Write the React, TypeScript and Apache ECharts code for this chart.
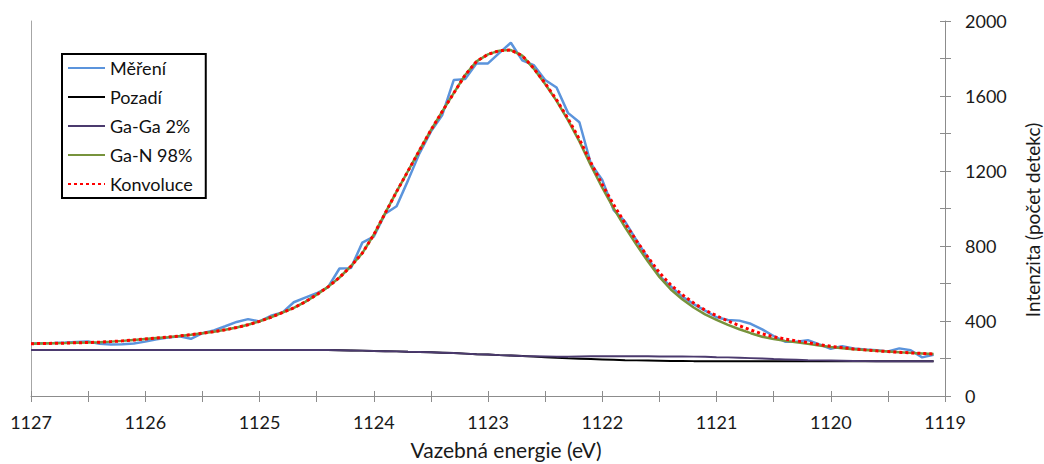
import React, { useEffect, useRef } from "react";
import * as echarts from "echarts";

const energy = [
  1127.0, 1126.9, 1126.8, 1126.7, 1126.6, 1126.5, 1126.4, 1126.3, 1126.2, 1126.1,
  1126.0, 1125.9, 1125.8, 1125.7, 1125.6, 1125.5, 1125.4, 1125.3, 1125.2, 1125.1,
  1125.0, 1124.9, 1124.8, 1124.7, 1124.6, 1124.5, 1124.4, 1124.3, 1124.2, 1124.1,
  1124.0, 1123.9, 1123.8, 1123.7, 1123.6, 1123.5, 1123.4, 1123.3, 1123.2, 1123.1,
  1123.0, 1122.9, 1122.8, 1122.7, 1122.6, 1122.5, 1122.4, 1122.3, 1122.2, 1122.1,
  1122.0, 1121.9, 1121.8, 1121.7, 1121.6, 1121.5, 1121.4, 1121.3, 1121.2, 1121.1,
  1121.0, 1120.9, 1120.8, 1120.7, 1120.6, 1120.5, 1120.4, 1120.3, 1120.2, 1120.1,
  1120.0, 1119.9, 1119.8, 1119.7, 1119.6, 1119.5, 1119.4, 1119.3, 1119.2, 1119.1,
];

const mereni = [
  280, 282, 283, 285, 288, 291, 278, 275, 276, 280,
  290, 302, 312, 318, 305, 335, 350, 372, 395, 410,
  398, 428, 445, 500, 525, 548, 580, 680, 682, 818,
  850, 972, 1012, 1150, 1294, 1410, 1499, 1685, 1690, 1774,
  1774, 1830, 1884, 1790, 1765, 1685, 1645, 1510, 1460, 1240,
  1152, 992, 930, 830, 735, 640, 585, 530, 490, 455,
  420, 405, 402, 385, 355, 320, 290, 290, 298, 275,
  252, 266, 253, 248, 244, 238, 254, 244, 206, 220,
];

const pozadi = [
  245, 245, 245, 245, 245, 245, 245, 245, 245, 245,
  245, 245, 245, 245, 245, 245, 245, 245, 245, 245,
  245, 245, 245, 245, 245, 245, 245, 244, 243, 242,
  240, 239, 238, 236, 235, 233, 231, 229, 226, 223,
  221, 218, 216, 213, 210, 207, 204, 201, 199, 197,
  195, 193, 191, 190, 189, 188, 187, 187, 186, 186,
  185, 185, 185, 185, 185, 185, 185, 185, 185, 185,
  185, 185, 185, 185, 185, 185, 185, 185, 185, 185,
];

const gaGa = [
  245, 245, 245, 245, 245, 245, 245, 245, 245, 245,
  245, 245, 245, 245, 245, 245, 245, 245, 245, 245,
  245, 245, 245, 245, 245, 245, 245, 244, 243, 242,
  240, 239, 238, 236, 235, 233, 231, 229, 226, 223,
  221, 218, 216, 213, 212, 211, 210, 210, 211, 212,
  212, 212, 212, 212, 212, 211, 211, 211, 210, 209,
  207, 206, 204, 202, 200, 197, 195, 193, 191, 190,
  189, 188, 187, 186, 185, 185, 185, 185, 185, 185,
];

const gaN = [
  279, 280, 281, 282, 284, 285, 287, 290, 294, 299,
  304, 309, 314, 320, 327, 335, 343, 353, 365, 380,
  398, 420, 445, 470, 502, 540, 582, 632, 692, 762,
  860, 975, 1090, 1200, 1310, 1418, 1518, 1615, 1712, 1785,
  1822, 1842, 1845, 1815, 1746, 1664, 1574, 1471, 1358, 1230,
  1111, 1001, 900, 806, 717, 635, 568, 516, 472, 435,
  406, 379, 356, 335, 316, 304, 294, 286, 278, 269,
  261, 255, 249, 245, 241, 237, 233, 230, 227, 224,
];

const konvoluce = [
  279, 280, 281, 282, 284, 285, 287, 290, 294, 299,
  304, 309, 314, 320, 327, 335, 343, 353, 365, 380,
  398, 420, 445, 470, 502, 540, 582, 632, 692, 762,
  860, 975, 1090, 1200, 1310, 1418, 1518, 1615, 1712, 1785,
  1822, 1842, 1845, 1815, 1748, 1668, 1580, 1480, 1370, 1245,
  1128, 1020, 921, 828, 740, 658, 592, 540, 496, 458,
  428, 400, 375, 352, 331, 316, 304, 294, 284, 274,
  265, 258, 251, 246, 241, 237, 233, 230, 227, 224,
];

const seriesNames = ["Měření", "Pozadí", "Ga-Ga 2%", "Ga-N 98%", "Konvoluce"];
const xTitle = "Vazebná energie (eV)";
const yTitle = "Intenzita (počet detekc)";

const FONT = "Lato";
const AXIS_GRAY = "#8c8c8c";

function pairs(values: number[]) {
  return energy.map((e, i) => [e, values[i]]);
}

export default function App() {
  const ref = useRef<HTMLDivElement>(null);
  useEffect(() => {
    if (!ref.current) return;
    const chart = echarts.init(ref.current, null, { renderer: "svg" });
    const plain = (v: number) => String(v);
    const baseX = {
      type: "value",
      min: 1119,
      max: 1127,
      interval: 1,
      inverse: true,
      position: "bottom",
      splitLine: { show: false },
    };
    const baseY = {
      type: "value",
      min: 0,
      max: 2000,
      interval: 400,
      splitLine: { show: false },
    };
    chart.setOption({
      animation: false,
      backgroundColor: "#ffffff",
      grid: { left: 31, right: 99, top: 21, bottom: 68 },
      xAxis: [
        {
          ...baseX,
          axisLine: { show: true, lineStyle: { color: AXIS_GRAY, width: 1 } },
          axisTick: { show: true, inside: false, length: 6, lineStyle: { color: AXIS_GRAY } },
          minorTick: { show: true, splitNumber: 2, length: 6, lineStyle: { color: AXIS_GRAY } },
          axisLabel: {
            margin: 17,
            fontFamily: FONT,
            fontSize: 18,
            color: "#1a1a1a",
            formatter: plain,
          },
        },
        {
          ...baseX,
          axisLine: { show: false },
          axisTick: { show: true, inside: true, length: 5, lineStyle: { color: AXIS_GRAY } },
          minorTick: { show: true, splitNumber: 2, length: 5, lineStyle: { color: AXIS_GRAY } },
          axisLabel: { show: false },
        },
      ],
      yAxis: [
        {
          ...baseY,
          position: "right",
          axisLine: { show: true, lineStyle: { color: AXIS_GRAY, width: 1 } },
          axisTick: { show: true, inside: false, length: 6, lineStyle: { color: AXIS_GRAY } },
          minorTick: { show: true, splitNumber: 2, length: 6, lineStyle: { color: AXIS_GRAY } },
          axisLabel: {
            margin: 20,
            fontFamily: FONT,
            fontSize: 18,
            color: "#1a1a1a",
            formatter: plain,
          },
        },
        {
          ...baseY,
          position: "right",
          axisLine: { show: false },
          axisTick: { show: true, inside: true, length: 5, lineStyle: { color: AXIS_GRAY } },
          minorTick: { show: true, splitNumber: 2, length: 5, lineStyle: { color: AXIS_GRAY } },
          axisLabel: { show: false },
        },
        {
          ...baseY,
          position: "left",
          axisLine: { show: true, lineStyle: { color: "#a6a6a6", width: 1 } },
          axisTick: { show: false },
          axisLabel: { show: false },
        },
      ],
      legend: {
        orient: "vertical",
        left: 62,
        top: 54,
        padding: [4, 13, 4, 5],
        itemGap: 9,
        itemWidth: 37,
        itemHeight: 14,
        borderColor: "#000000",
        borderWidth: 2,
        backgroundColor: "#ffffff",
        itemStyle: { opacity: 0 },
        textStyle: { fontFamily: FONT, fontSize: 18, color: "#111111", lineHeight: 20 },
        data: seriesNames,
      },
      graphic: [
        {
          type: "text",
          x: 506,
          y: 449,
          style: {
            text: xTitle,
            fontFamily: FONT,
            fontSize: 21,
            fill: "#1a1a1a",
            textAlign: "center",
            textVerticalAlign: "middle",
          },
        },
        {
          type: "text",
          x: 1032,
          y: 220,
          rotation: Math.PI / 2,
          style: {
            text: yTitle,
            fontFamily: FONT,
            fontSize: 19,
            fill: "#1a1a1a",
            textAlign: "center",
            textVerticalAlign: "middle",
          },
        },
      ],
      series: [
        {
          name: seriesNames[0],
          type: "line",
          symbol: "none",
          data: pairs(mereni),
          lineStyle: { color: "#5b94dc", width: 2.5 },
          itemStyle: { color: "#5b94dc" },
          z: 2,
        },
        {
          name: seriesNames[1],
          type: "line",
          symbol: "none",
          data: pairs(pozadi),
          lineStyle: { color: "#000000", width: 2 },
          itemStyle: { color: "#000000" },
          z: 3,
        },
        {
          name: seriesNames[2],
          type: "line",
          symbol: "none",
          data: pairs(gaGa),
          lineStyle: { color: "#4b3a6e", width: 2 },
          itemStyle: { color: "#4b3a6e" },
          z: 4,
        },
        {
          name: seriesNames[3],
          type: "line",
          symbol: "none",
          data: pairs(gaN),
          lineStyle: { color: "#77933c", width: 2.5 },
          itemStyle: { color: "#77933c" },
          z: 5,
        },
        {
          name: seriesNames[4],
          type: "line",
          symbol: "none",
          data: pairs(konvoluce),
          lineStyle: { color: "#ff0000", width: 3, type: [3, 3], cap: "butt" },
          itemStyle: { color: "#ff0000" },
          z: 6,
        },
      ],
    });
    return () => chart.dispose();
  }, []);
  return (
    <div
      ref={ref}
      style={{ position: "fixed", left: 0, top: 0, width: 1044, height: 464, background: "#fff" }}
    />
  );
}
